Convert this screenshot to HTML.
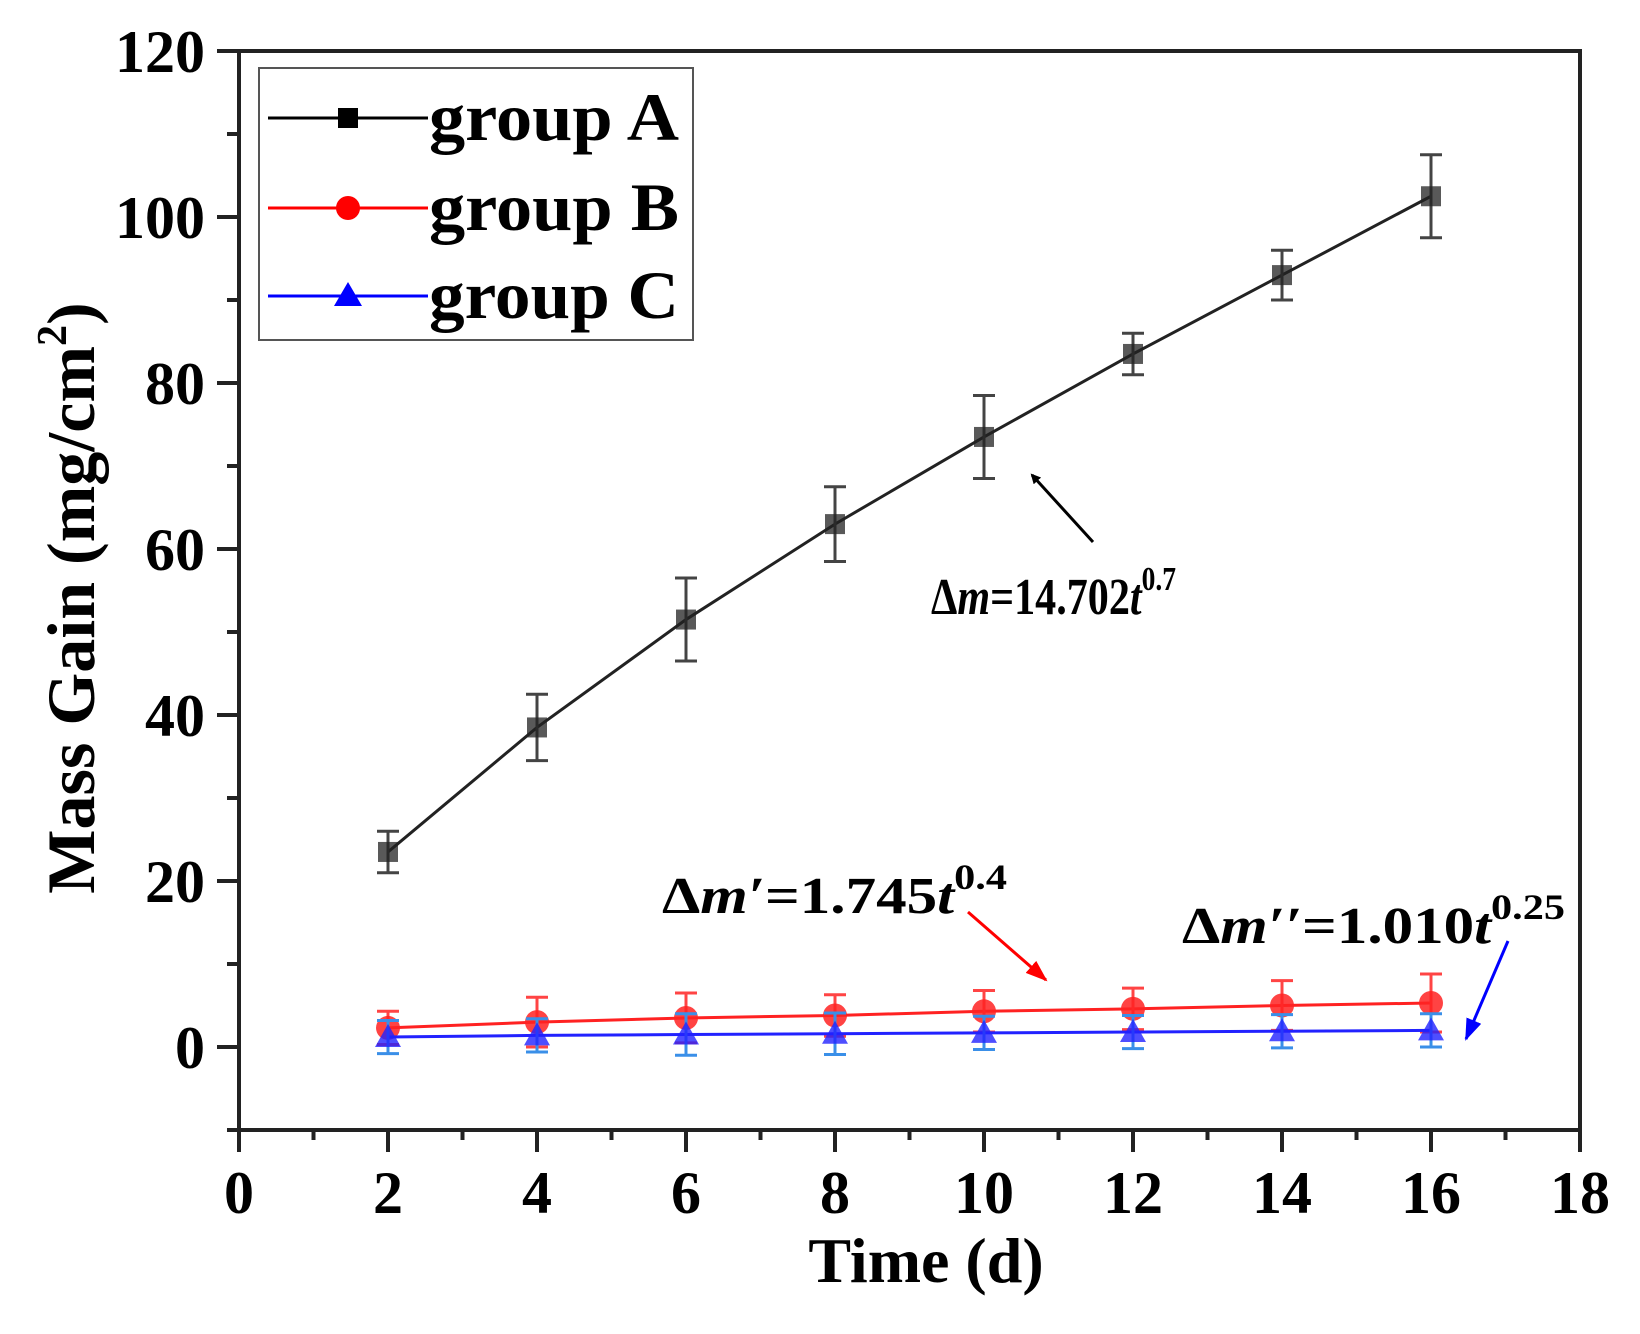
<!DOCTYPE html>
<html><head><meta charset="utf-8"><style>
body{margin:0;background:#fff}
svg{display:block;font-family:"Liberation Serif",serif;font-weight:bold}
</style></head><body>
<svg id="chart" width="1640" height="1334" viewBox="0 0 1640 1334" xmlns="http://www.w3.org/2000/svg">
<defs>
<marker id="ak" markerWidth="10" markerHeight="10" refX="8" refY="5" orient="auto" markerUnits="userSpaceOnUse"><path d="M0,0 L10,5 L0,10 z" fill="#000"/></marker>
<marker id="ar" markerWidth="22" markerHeight="16" refX="20" refY="8" orient="auto" markerUnits="userSpaceOnUse"><path d="M0,0 L22,8 L0,16 z" fill="#f00"/></marker>
<marker id="ab" markerWidth="22" markerHeight="16" refX="20" refY="8" orient="auto" markerUnits="userSpaceOnUse"><path d="M0,0 L22,8 L0,16 z" fill="#00f"/></marker>
</defs>
<g id="axes"></g>
<g id="series"></g>
<g>
<rect x="259" y="68" width="434" height="272" fill="#fff" stroke="#555" stroke-width="2"/>
<g>
<line x1="268" y1="118" x2="428" y2="118" stroke="#000" stroke-width="3"/><rect x="338" y="108" width="20" height="20" fill="#000"/>
<text x="429" y="140" font-size="68" textLength="250" lengthAdjust="spacingAndGlyphs">group A</text></g>
<g>
<line x1="268" y1="208" x2="428" y2="208" stroke="#f00" stroke-width="3"/><circle cx="348" cy="208" r="12" fill="#f00"/>
<text x="429" y="230" font-size="68" textLength="250" lengthAdjust="spacingAndGlyphs">group B</text></g>
<g>
<line x1="268" y1="296" x2="428" y2="296" stroke="#00f" stroke-width="3"/><path d="M348,282 L362,306 L334,306 z" fill="#00f"/>
<text x="429" y="318" font-size="68" textLength="250" lengthAdjust="spacingAndGlyphs">group C</text></g>
</g>
<g>
<text x="931" y="614" font-size="52" textLength="245" lengthAdjust="spacingAndGlyphs">Δ<tspan font-style="italic">m</tspan>=14.702<tspan font-style="italic">t</tspan><tspan font-size="34" dy="-24">0.7</tspan></text>
<line x1="1093" y1="542" x2="1032" y2="475" stroke="#000" stroke-width="3" marker-end="url(#ak)"/>
<text x="662" y="913" font-size="52" textLength="345" lengthAdjust="spacingAndGlyphs">Δ<tspan font-style="italic">m′</tspan>=1.745<tspan font-style="italic">t</tspan><tspan font-size="36" dy="-24">0.4</tspan></text>
<line x1="968" y1="912" x2="1046" y2="980" stroke="#f00" stroke-width="3" marker-end="url(#ar)"/>
<text x="1182" y="943" font-size="52" textLength="383" lengthAdjust="spacingAndGlyphs">Δ<tspan font-style="italic">m′′</tspan>=1.010<tspan font-style="italic">t</tspan><tspan font-size="36" dy="-24">0.25</tspan></text>
<line x1="1508" y1="941" x2="1466" y2="1039" stroke="#00f" stroke-width="3" marker-end="url(#ab)"/>
</g>
<text x="926" y="1282" font-size="64" text-anchor="middle">Time (d)</text>
<text transform="translate(94,598) rotate(-90)" font-size="68" text-anchor="middle">Mass Gain (mg/cm<tspan font-size="42" dy="-28">2</tspan><tspan dy="28">)</tspan></text>
</svg>
<script>
const days = [2,4,6,8,10,12,14,16];
const groupA = [23.5,38.5,51.5,63,73.5,83.5,93,102.5];
const errA = [2.5,4,5,4.5,5,2.5,3,5];
const groupB = [2.3,3.0,3.5,3.8,4.3,4.6,5.0,5.3];
const errB = [2,3,3,2.5,2.5,2.5,3,3.5];
const groupC = [1.2,1.4,1.5,1.6,1.7,1.8,1.9,2.0];
const errC = [2,2,2.5,2.5,2,2,2,2];
const xTicks = [0,2,4,6,8,10,12,14,16,18];
const yTicks = [0,20,40,60,80,100,120];

const X0=239, X1=1580, Y0=1130, Y1=51, XMIN=0, XMAX=18, YMIN=-10, YMAX=120;
const sx = v => X0 + (v-XMIN)/(XMAX-XMIN)*(X1-X0);
const sy = v => Y0 - (v-YMIN)/(YMAX-YMIN)*(Y0-Y1);
const NS="http://www.w3.org/2000/svg";
function mk(tag, attrs, parent){const e=document.createElementNS(NS,tag);for(const k in attrs)e.setAttribute(k,attrs[k]);parent.appendChild(e);return e;}
const ax=document.getElementById('axes'), se=document.getElementById('series');

let f=mk('rect',{x:X0,y:Y1,width:X1-X0,height:Y0-Y1,fill:'none',stroke:'#222','stroke-width':4},ax);


for(let v=0; v<=18; v++){
  const major = v%2===0;
  const t=mk('line',{x1:sx(v),x2:sx(v),y1:Y0,y2:Y0+(major?22:10),stroke:'#222','stroke-width':4},ax);
  
  
}
xTicks.forEach(v=>{
  const t=mk('text',{x:sx(v),y:1213,'font-size':60,'text-anchor':'middle'},ax);t.textContent=v;
  
  
});
for(let v=-10; v<=120; v+=10){
  const major = v%20===0;
  const t=mk('line',{x1:X0-(major?22:12),x2:X0,y1:sy(v),y2:sy(v),stroke:'#222','stroke-width':4},ax);
  
  
}
yTicks.forEach(v=>{
  const t=mk('text',{x:205,y:sy(v)+21,'font-size':60,'text-anchor':'end'},ax);t.textContent=v;
  
  
});

function drawSeries(vals, errs, color, ecolor, shape, name){
  const g=mk('g',{},se);
  
  
  const pl=mk('polyline',{points:days.map((d,i)=>sx(d)+','+sy(vals[i])).join(' '),fill:'none',stroke:color,'stroke-width':3},g);
  
  
  days.forEach((d,i)=>{
    const x=sx(d), y=sy(vals[i]), yt=sy(vals[i]+errs[i]), yb=sy(vals[i]-errs[i]);
    const eb=mk('path',{d:`M${x},${yt}V${yb}M${x-11},${yt}H${x+11}M${x-11},${yb}H${x+11}`,stroke:ecolor,'stroke-width':3,fill:'none'},g);
    
    
    let m;
    if(shape==='sq') m=mk('rect',{x:x-10,y:y-10,width:20,height:20,fill:color,opacity:0.75},g);
    else if(shape==='ci') m=mk('circle',{cx:x,cy:y,r:12,fill:color,opacity:0.85},g);
    else m=mk('path',{d:`M${x},${y-13} L${x+13},${y+10} L${x-13},${y+10} z`,fill:color,opacity:0.8},g);
    
    
  });
}
drawSeries(groupA,errA,'#222','#444','sq','group-a');
drawSeries(groupB,errB,'#f22','#f44','ci','group-b');
drawSeries(groupC,errC,'#22f','#3a8fe8','tr','group-c');
</script>
</body></html>
